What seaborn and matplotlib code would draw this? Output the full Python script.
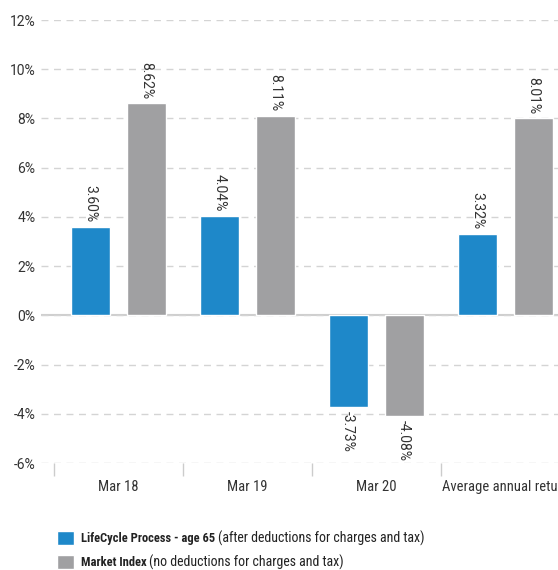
import seaborn as sns
from matplotlib import pyplot as plt
from matplotlib.patches import Patch
import pandas as pd

periods = ['Mar 18', 'Mar 19', 'Mar 20', 'Average annual return']
lifecycle = [3.60, 4.04, -3.73, 3.32]
market = [8.62, 8.11, -4.08, 8.01]
series_names = ['LifeCycle Process - age 65', 'Market Index']
series_notes = ['(after deductions for charges and tax)', '(no deductions for charges and tax)']
colors = ['#1e88c9', '#a0a0a2']
yticks = [-6, -4, -2, 0, 2, 4, 6, 8, 10, 12]

df = pd.DataFrame({
    'period': periods * 2,
    'series': [series_names[0]] * 4 + [series_names[1]] * 4,
    'value': lifecycle + market,
})

sns.set_style('white')
plt.rcParams['font.family'] = ['Roboto', 'DejaVu Sans']
narrow = ['Roboto Condensed', 'Roboto', 'DejaVu Sans']
text_col = '#333333'

fig = plt.figure(figsize=(5.58, 5.70), dpi=100)
ax = fig.add_axes([0.0735, 0.1877, 0.9265, 0.7772])

sns.barplot(data=df, x='period', y='value', hue='series', palette=colors,
            width=0.868, gap=0.3, ax=ax, legend=False, saturation=1)

for c in ax.containers:
    ax.bar_label(c, fmt='%.2f%%', rotation=-90, padding=3, fontsize=10, color=text_col)

ax.set_yticks(yticks)
ax.set_yticklabels([f'{t}%' for t in yticks])
ax.grid(axis='y', color='#d4d4d4', linestyle=(0, (5, 4)), linewidth=1)
ax.axhline(0, color='#cfcfcf', linewidth=1.5, zorder=0.5)
ax.set_axisbelow(True)
for s in ax.spines.values():
    s.set_visible(False)

# category separators as minor ticks
ax.set_xticks(range(len(periods)))
ax.set_xticklabels(periods, family=narrow, fontsize=10.5)
ax.set_xticks([i - 0.5 for i in range(len(periods) + 1)], minor=True)
ax.tick_params(axis='x', which='both', bottom=True)
ax.tick_params(axis='x', which='major', length=0, pad=12, labelcolor=text_col)
ax.tick_params(axis='x', which='minor', length=9, width=1, color='#cccccc', direction='out')
ax.tick_params(axis='y', length=0, pad=4, labelsize=10, labelcolor=text_col)
ax.set_xlabel('')
ax.set_ylabel('')
ax.set_ylim(-6, 12)
ax.set_xlim(-0.6, 3.41)

handles = [Patch(facecolor=c) for c in colors]
leg = fig.legend(handles, series_names, loc='upper left', bbox_to_anchor=(0.102, 0.069),
                 frameon=False, handlelength=1.35, handleheight=1.35, handletextpad=0.55,
                 labelspacing=0.8, prop={'weight': 'bold', 'size': 9, 'family': narrow},
                 borderaxespad=0, borderpad=0)
for t in leg.get_texts():
    t.set_color('#222222')

fig.canvas.draw()
renderer = fig.canvas.get_renderer()
inv = fig.transFigure.inverted()
for t, note in zip(leg.get_texts(), series_notes):
    bb = t.get_window_extent(renderer)
    x0, y0 = inv.transform((bb.x1, bb.y0))
    x1, y1 = inv.transform((bb.x1, bb.y1))
    fig.text(x0 + 0.005, (y0 + y1) / 2, note, fontsize=10, color='#222222', va='center',
             family=narrow)

fig.savefig('out.png', dpi=100)
